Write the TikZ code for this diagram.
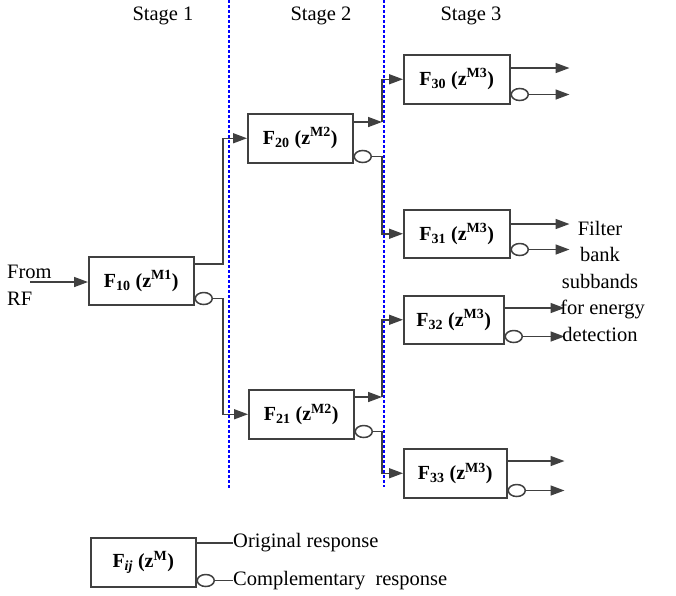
\documentclass[tikz,border=0pt]{standalone}
\usepackage{fontspec}
\setmainfont{Liberation Serif}
\usetikzlibrary{arrows.meta,shapes.geometric}

\begin{document}
\begin{tikzpicture}[x=1pt, y=-1pt, font=\fontsize{20.5}{24}\selectfont,
    line/.style={draw=black!75, line width=1.5pt},
    arr/.style={line, -{Triangle[length=14pt,width=10pt]}},
    box/.style={draw=black!75, line width=1.5pt, anchor=north west, inner sep=0pt,
      font=\fontsize{20}{24}\selectfont\bfseries},
    comp/.style={ellipse, draw=black!75, line width=1.5pt, minimum width=17pt,
      minimum height=12pt, inner sep=0pt, anchor=west},
    sep/.style={blue, line width=1.5pt, dash pattern=on 3pt off 2pt}]
    \useasboundingbox (0,0) rectangle (676,595);
    % stage titles and separators
    \node (st1) at (163,16) {Stage 1};
    \node (st2) at (321,16) {Stage 2};
    \node (st3) at (471,16) {Stage 3};
    \draw[sep] (229,0) -- (229,489);
    \draw[sep] (384,0) -- (384,487);
    % stage 1
    \node[align=left, anchor=west, inner sep=0pt, font=\fontsize{20.5}{27}\selectfont]
      (rf) at (7,285) {From\\RF};
    \node[box, minimum width=105pt, minimum height=48pt] (f10) at (88,256)
      {F\textsubscript{10} (z\textsuperscript{M1})};
    \node[comp] (c10) at ([yshift=7pt]f10.south east) {};
    \coordinate (o10) at ([yshift=-8pt]f10.north east);
    \coordinate (in) at (30,282);
    \draw[arr] (in) -- (in -| f10.west);
    % stage 2
    \node[box, minimum width=105pt, minimum height=49pt] (f20) at (247,113)
      {F\textsubscript{20} (z\textsuperscript{M2})};
    \node[box, minimum width=105pt, minimum height=49pt] (f21) at (248,389)
      {F\textsubscript{21} (z\textsuperscript{M2})};
    \node[comp] (c20) at ([yshift=7pt]f20.south east) {};
    \node[comp] (c21) at ([yshift=8pt]f21.south east) {};
    \coordinate (o20) at ([yshift=-9pt]f20.north east);
    \coordinate (o21) at ([yshift=-8pt]f21.north east);
    % stage 3
    \node[box, minimum width=106pt, minimum height=49pt] (f30) at (403,54)
      {F\textsubscript{30} (z\textsuperscript{M3})};
    \node[box, minimum width=106pt, minimum height=48pt] (f31) at (403,209)
      {F\textsubscript{31} (z\textsuperscript{M3})};
    \node[box, minimum width=100pt, minimum height=48pt] (f32) at (403,295)
      {F\textsubscript{32} (z\textsuperscript{M3})};
    \node[box, minimum width=103pt, minimum height=49pt] (f33) at (403,448)
      {F\textsubscript{33} (z\textsuperscript{M3})};
    \node[comp] (c30) at ([yshift=10pt]f30.south east) {};
    \node[comp] (c31) at ([yshift=9pt]f31.south east) {};
    \node[comp] (c32) at ([yshift=8pt]f32.south east) {};
    \node[comp] (c33) at ([yshift=8pt]f33.south east) {};
    \coordinate (o30) at ([yshift=-14pt]f30.north east);
    \coordinate (o31) at ([yshift=-15pt]f31.north east);
    \coordinate (o32) at ([yshift=-13pt]f32.north east);
    \coordinate (o33) at ([yshift=-13pt]f33.north east);
    % splitting between stages
    \coordinate (b1) at (223,0);
    \coordinate (b2) at (382,0);
    \draw[arr] (o10) -| (b1 |- f20.west) -- (f20.west);
    \draw[arr] (c10.east) -| (b1 |- f21.west) -- (f21.west);
    \draw[arr] (o20) -- (b2 |- o20);
    \draw[arr] (b2 |- o20) |- (f30.west);
    \draw[arr] (c20.east) -| (b2 |- f31.west) -- (f31.west);
    \draw[arr] (o21) -- (b2 |- o21);
    \draw[arr] (b2 |- o21) |- (f32.west);
    \draw[arr] (c21.east) -| (b2 |- f33.west) -- (f33.west);
    % subband outputs
    \foreach \n/\len in {30/59,31/59,32/60,33/57} {
      \draw[arr] (o\n) -- ++(\len,0) coordinate (e\n);
      \draw[arr] (c\n.east) -- (c\n.east -| e\n);
    }
    \node[align=center, font=\fontsize{20.5}{26.5}\selectfont] (sub) at (600,281)
      {Filter\\bank\\subbands\\\ for energy\\detection};
    % legend
    \node[box, minimum width=105pt, minimum height=49pt] (leg) at (90,537)
      {F\textsubscript{\textit{ij}} (z\textsuperscript{M})};
    \node[comp] (cleg) at ([yshift=7pt]leg.south east) {};
    \coordinate (oleg) at ([yshift=-6pt]leg.north east);
    \node[anchor=west, inner sep=0pt] (orig) at (oleg -| 233,0) {Original response};
    \node[anchor=west, inner sep=0pt] (compl) at (cleg.center -| 233,0)
      {Complementary\ \ response};
    \draw[line] (oleg) -- (orig.west);
    \draw[line] (cleg.east) -- (compl.west);
\end{tikzpicture}
\end{document}
